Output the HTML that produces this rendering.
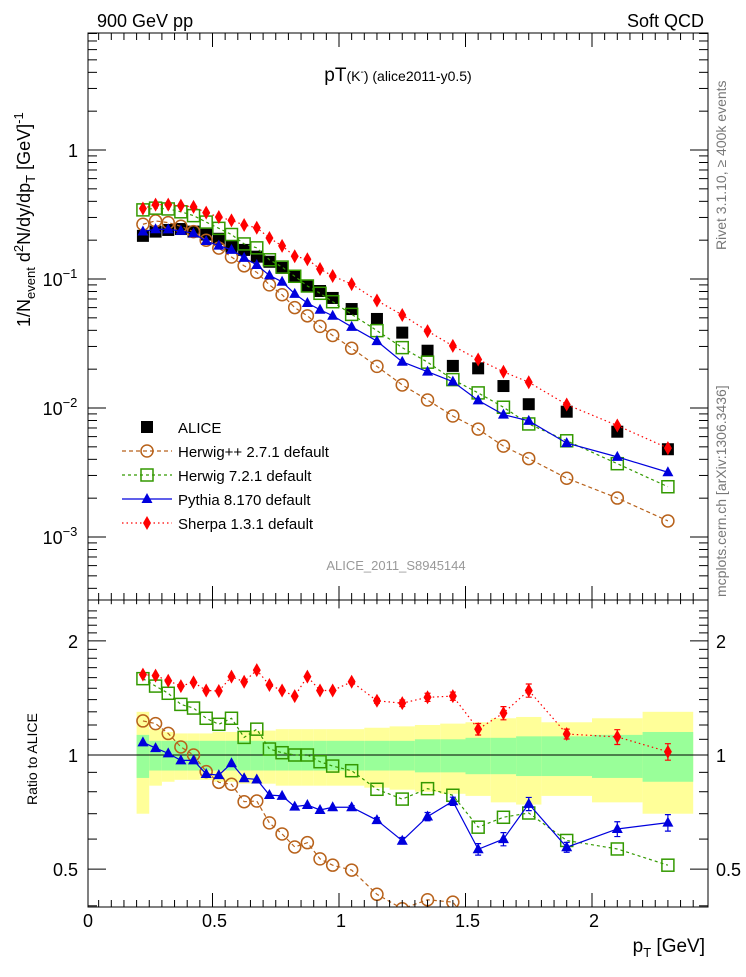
<!DOCTYPE html>
<html><head><meta charset="utf-8"><style>
body{margin:0;background:#fff;font-family:"Liberation Sans",sans-serif}
svg text{font-family:"Liberation Sans","DejaVu Sans",sans-serif}
</style></head><body>
<svg id="c" width="746" height="972" xmlns="http://www.w3.org/2000/svg">
<defs>
<clipPath id="cm"><rect x="88" y="33" width="620" height="567"/></clipPath>
<clipPath id="cr"><rect x="88" y="600" width="620" height="307"/></clipPath>
</defs>
<text x="97" y="27" font-size="18">900 GeV pp</text>
<text x="704" y="27" font-size="18" text-anchor="end">Soft QCD</text>
<text x="398" y="81" font-size="19" text-anchor="middle">pT<tspan font-size="14">(K</tspan><tspan font-size="10" dy="-6">-</tspan><tspan font-size="14" dy="6">) (alice2011-y0.5)</tspan></text>
<text transform="translate(726,250) rotate(-90)" font-size="14" fill="#777">Rivet 3.1.10, ≥ 400k events</text>
<text transform="translate(726,597) rotate(-90)" font-size="14" fill="#777">mcplots.cern.ch [arXiv:1306.3436]</text>
<text x="396" y="570" font-size="13" fill="#999" text-anchor="middle">ALICE_2011_S8945144</text>
<text transform="translate(30,327) rotate(-90)" font-size="18">1/N<tspan font-size="13" dy="5">event</tspan><tspan dy="-5"> d</tspan><tspan font-size="13" dy="-7">2</tspan><tspan dy="7">N/dy/dp</tspan><tspan font-size="13" dy="5">T</tspan><tspan dy="-5"> [GeV]</tspan><tspan font-size="13" dy="-7">-1</tspan></text>
<text transform="translate(37,805) rotate(-90)" font-size="14">Ratio to ALICE</text>
<text x="705" y="952" font-size="19" text-anchor="end">p<tspan font-size="13" dy="5">T</tspan><tspan dy="-5"> [GeV]</tspan></text>
<g id="g"></g>
</svg>
<script>
const edges=[0.2,0.25,0.3,0.35,0.4,0.45,0.5,0.55,0.6,0.65,0.7,0.75,0.8,0.85,0.9,0.95,1.0,1.1,1.2,1.3,1.4,1.5,1.6,1.7,1.8,2.0,2.2,2.4];
const xVals=[0.225,0.275,0.325,0.375,0.425,0.475,0.525,0.575,0.625,0.675,0.725,0.775,0.825,0.875,0.925,0.975,1.05,1.15,1.25,1.35,1.45,1.55,1.65,1.75,1.9,2.1,2.3];
const alice=[0.216,0.233,0.240,0.244,0.233,0.221,0.205,0.177,0.168,0.149,0.136,0.122,0.105,0.0883,0.0807,0.0713,0.0585,0.049,0.0384,0.0278,0.0212,0.0203,0.0148,0.0107,0.00936,0.00655,0.00479];
const totErr=[0.30,0.17,0.15,0.14,0.14,0.14,0.15,0.15,0.16,0.16,0.16,0.17,0.17,0.17,0.17,0.17,0.17,0.18,0.19,0.20,0.21,0.22,0.25,0.26,0.22,0.25,0.30];
const statErr=[0.13,0.09,0.09,0.09,0.09,0.09,0.09,0.09,0.09,0.09,0.09,0.09,0.09,0.09,0.09,0.09,0.09,0.09,0.09,0.10,0.10,0.11,0.11,0.12,0.12,0.13,0.15];
const herwigppRatio=[1.23,1.21,1.14,1.05,1.0,0.904,0.847,0.837,0.753,0.756,0.662,0.619,0.572,0.587,0.532,0.512,0.497,0.429,0.393,0.415,0.409,0.338,0.342,0.379,0.305,0.306,0.278];
const herwig7Ratio=[1.59,1.52,1.455,1.36,1.33,1.25,1.205,1.25,1.113,1.17,1.037,1.014,1.0,1.0,0.96,0.935,0.909,0.812,0.765,0.815,0.783,0.645,0.685,0.703,0.595,0.565,0.512];
const pythiaRatio=[1.08,1.043,1.01,0.968,0.968,0.891,0.885,0.951,0.868,0.862,0.784,0.78,0.731,0.738,0.716,0.728,0.728,0.673,0.594,0.688,0.755,0.564,0.6,0.743,0.571,0.638,0.663];
const sherpaRatio=[1.63,1.62,1.57,1.52,1.555,1.48,1.475,1.61,1.56,1.675,1.53,1.48,1.43,1.61,1.48,1.48,1.56,1.39,1.37,1.42,1.43,1.17,1.29,1.48,1.136,1.116,1.02];
const mcErr=[0,0,0,0,0,0,0,0,0,0,0,0,0,0,0,0,0.01,0.015,0.02,0.025,0.025,0.035,0.04,0.04,0.03,0.045,0.05];
const xTicks=[0,0.5,1,1.5,2];
const xTickLabels=["0","0.5","1","1.5","2"];

const NS="http://www.w3.org/2000/svg",G=document.getElementById('g');
const X=v=>86+253*v;
const YM=v=>150-129*Math.log10(v);
const YR=v=>755-379*Math.log10(v);
function el(t,a,p){const e=document.createElementNS(NS,t);for(const k in a)e.setAttribute(k,a[k]);(p||G).appendChild(e);return e;}
const gm=el('g',{'clip-path':'url(#cm)'});
const gr=el('g',{'clip-path':'url(#cr)'});
for(let i=0;i<xVals.length;i++){
 const x0=X(edges[i]),x1=X(edges[i+1]);
 const y=el('rect',{x:x0,y:YR(1+totErr[i]),width:x1-x0,height:YR(1-totErr[i])-YR(1+totErr[i]),fill:'#ffff99'},gr);
 
 const g2=el('rect',{x:x0,y:YR(1+statErr[i]),width:x1-x0,height:YR(1-statErr[i])-YR(1+statErr[i]),fill:'#99ff99'},gr);
 
}
const ref=el('line',{x1:88,x2:708,y1:YR(1),y2:YR(1),stroke:'#000','stroke-width':1},gr);

function marker(type,x,y,col,par){
 let m;
 if(type==='sq')m=el('rect',{x:x-6,y:y-6,width:12,height:12,fill:'#000'},par);
 else if(type==='osq')m=el('rect',{x:x-6,y:y-6,width:12,height:12,fill:'none',stroke:col,'stroke-width':1.5},par);
 else if(type==='circ')m=el('circle',{cx:x,cy:y,r:6,fill:'none',stroke:col,'stroke-width':1.5},par);
 else if(type==='tri')m=el('path',{d:`M${x-5.5},${y+4}L${x+5.5},${y+4}L${x},${y-6}Z`,fill:col},par);
 else m=el('path',{d:`M${x},${y-7}L${x+4},${y}L${x},${y+7}L${x-4},${y}Z`,fill:col},par);
 return m;
}
const series=[
 {name:'herwigpp',r:herwigppRatio,col:'#b8621b',dash:'4,3',mk:'circ',label:'Herwig++ 2.7.1 default',eb:false},
 {name:'herwig7',r:herwig7Ratio,col:'#339900',dash:'3,3',mk:'osq',label:'Herwig 7.2.1 default',eb:false},
 {name:'pythia',r:pythiaRatio,col:'#0000dd',dash:'',mk:'tri',label:'Pythia 8.170 default',eb:true},
 {name:'sherpa',r:sherpaRatio,col:'#ff0000',dash:'1.5,3',mk:'dia',label:'Sherpa 1.3.1 default',eb:true}];
alice.forEach((v,i)=>{const m=marker('sq',X(xVals[i]),YM(v),'#000',gm);});
series.forEach(s=>{
 const pm=xVals.map((x,i)=>[X(x),YM(alice[i]*s.r[i])]);
 const pr=xVals.map((x,i)=>[X(x),YR(s.r[i])]);
 if(s.eb)xVals.forEach((x,i)=>{if(!mcErr[i])return;const e=el('path',{d:`M${X(x)},${YR(s.r[i]*(1+mcErr[i]))}V${YR(s.r[i]*(1-mcErr[i]))}M${X(x)-3},${YR(s.r[i]*(1+mcErr[i]))}h6M${X(x)-3},${YR(s.r[i]*(1-mcErr[i]))}h6`,stroke:s.col,'stroke-width':1.2,fill:'none'},gr);});
 [[pm,gm],[pr,gr]].forEach(([pts,par])=>{
  const l=el('polyline',{points:pts.map(p=>p.join(',')).join(' '),fill:'none',stroke:s.col,'stroke-width':1.2,'stroke-dasharray':s.dash},par);
  
  pts.forEach(p=>{const m=marker(s.mk,p[0],p[1],s.col,par);});
 });
});
[[33,567],[600,307]].forEach(([y,h])=>{const f=el('rect',{x:88,y:y,width:620,height:h,fill:'none',stroke:'#000','stroke-width':1});});
for(let k=0;k<=48;k++){const v=k*0.05,x=X(v);if(x<88||x>708)continue;const big=k%10===0;const L=big?14:7;
 el('line',{x1:x,x2:x,y1:907,y2:907-L,stroke:'#000'});el('line',{x1:x,x2:x,y1:600,y2:600+L*0.6,stroke:'#000'});
 el('line',{x1:x,x2:x,y1:600,y2:600-L,stroke:'#000'});el('line',{x1:x,x2:x,y1:33,y2:33+L,stroke:'#000'});}
xTicks.forEach((v,i)=>{const t=el('text',{x:X(v)+2,y:927,'font-size':18,'text-anchor':'middle'});t.textContent=xTickLabels[i];});
for(let d=-4;d<=1;d++)for(let m=1;m<=9;m++){const v=m*Math.pow(10,d),y=YM(v);if(y<33||y>600)continue;const L=m===1?18:9;
 el('line',{x1:88,x2:88+L,y1:y,y2:y,stroke:'#000'});el('line',{x1:708,x2:708-L,y1:y,y2:y,stroke:'#000'});}
[[1,'1'],[0.1,'10'],[0.01,'10'],[0.001,'10']].forEach(([v,s],i)=>{const t=el('text',{x:i?60:78,y:YM(v)+7,'font-size':18,'text-anchor':i?'middle':'end'});t.textContent=s;
 if(i){const e=el('tspan',{'font-size':13,dy:-8},t);e.textContent='−'+i;}
 });
for(let v=0.4;v<=2.5;v+=0.1){const y=YR(v);if(y<600||y>907)continue;const big=Math.abs(v-1)<1e-6||Math.abs(v-2)<1e-6||Math.abs(v-0.5)<1e-6;const L=big?18:9;
 el('line',{x1:88,x2:88+L,y1:y,y2:y,stroke:'#000'});el('line',{x1:708,x2:708-L,y1:y,y2:y,stroke:'#000'});}
[[2,'2'],[1,'1'],[0.5,'0.5']].forEach(([v,s])=>{[[78,'end'],[716,'start']].forEach(([x,a])=>{const t=el('text',{x:x,y:YR(v)+7,'font-size':18,'text-anchor':a});t.textContent=s;});});
const lg=el('g',{});
const ly=[427,451,475,499,523];
{marker('sq',147,ly[0],'#000',lg);const t=el('text',{x:178,y:ly[0]+6,'font-size':15},lg);t.textContent='ALICE';}
series.forEach((s,i)=>{const y=ly[i+1];el('line',{x1:122,x2:172,y1:y,y2:y,stroke:s.col,'stroke-width':1.2,'stroke-dasharray':s.dash},lg);marker(s.mk,147,y,s.col,lg);
 const t=el('text',{x:178,y:y+6,'font-size':15},lg);t.textContent=s.label;});
</script>
</body></html>
